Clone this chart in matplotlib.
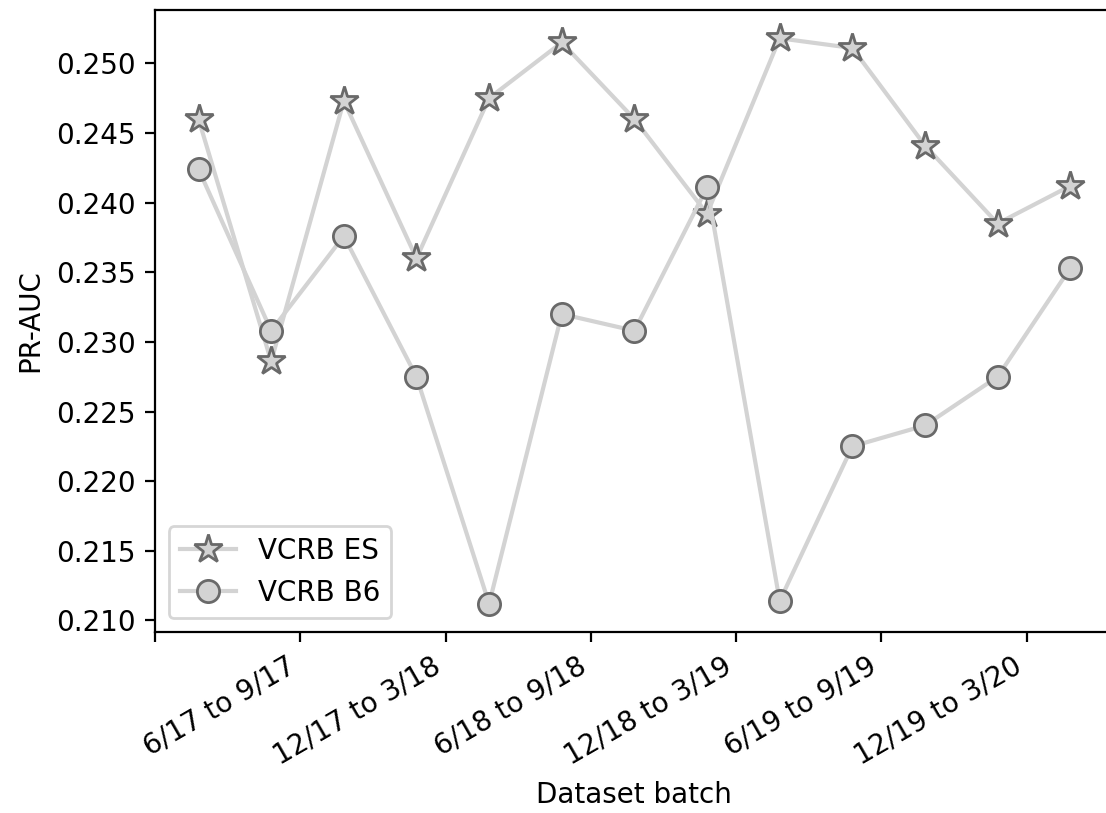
import numpy as np
import matplotlib as mpl
import matplotlib.pyplot as plt

mpl.use('Agg')

batches = np.arange(13)
es = [0.2460, 0.2286, 0.2473, 0.2360, 0.2475, 0.2515, 0.2460, 0.2392,
      0.2518, 0.2511, 0.2441, 0.2385, 0.2412]
b6 = [0.2424, 0.2308, 0.2376, 0.2275, 0.2112, 0.2320, 0.2308, 0.2411,
      0.2114, 0.2225, 0.2240, 0.2275, 0.2353]
tick_labels = ['', '6/17 to 9/17', '12/17 to 3/18', '6/18 to 9/18',
               '12/18 to 3/19', '6/19 to 9/19', '12/19 to 3/20']

dpi = 200
fig = plt.figure(figsize=(1106 / dpi, 813 / dpi), dpi=dpi)
ax = fig.add_axes([0.1401, 0.2226, 0.867, 0.7651])

ax.plot(batches, es, marker='*', markersize=10.5, color='lightgray', lw=1.5,
        markerfacecolor='lightgray', markeredgecolor='dimgray', markeredgewidth=1,
        label='VCRB ES')
ax.plot(batches, b6, marker='o', markersize=8, color='lightgray', lw=1.5,
        markerfacecolor='lightgray', markeredgecolor='dimgray', markeredgewidth=1,
        label='VCRB B6')

ax.set_xlim(-0.6, 12.6)
ax.set_xticks(np.arange(-0.6, 12, 2))
ax.set_xticklabels(tick_labels, rotation=30, ha='right')
ax.set_xlabel('Dataset batch')
ax.set_ylabel('PR-AUC')
ax.legend(loc='lower left')

plt.savefig('out.png', dpi=dpi)
